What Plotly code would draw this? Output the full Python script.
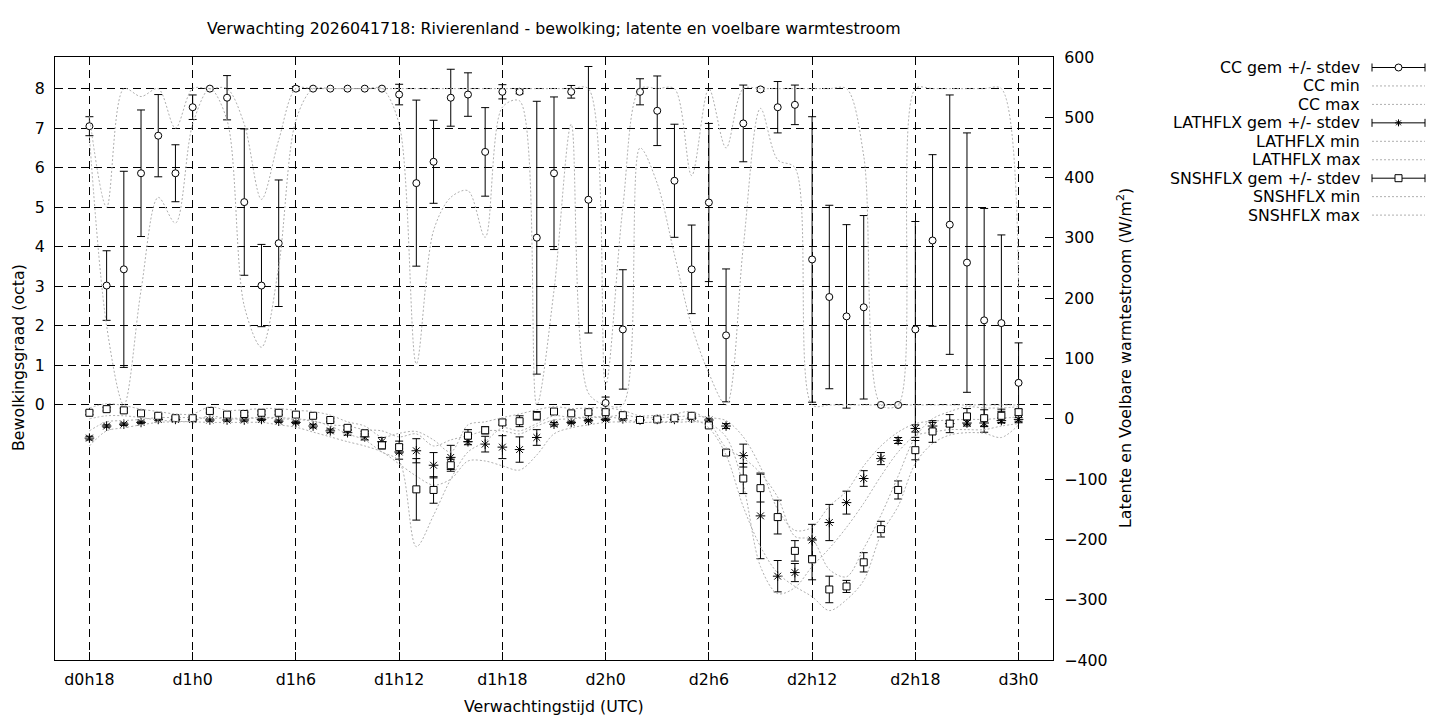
import plotly.graph_objects as go

W, H = 1440, 720

hours = list(range(18, 73))
tick_hours = [18, 24, 30, 36, 42, 48, 54, 60, 66, 72]
tick_labels = ["d0h18", "d1h0", "d1h6", "d1h12", "d1h18", "d2h0", "d2h6", "d2h12", "d2h18", "d3h0"]

cc_mean = [7.05, 3.02, 3.43, 5.86, 6.81, 5.86, 7.53, 8.0, 7.77, 5.13, 3.02, 4.09,
           8.0, 8.0, 8.0, 8.0, 8.0, 8.0, 7.85, 5.61, 6.15, 7.77, 7.85, 6.40,
           7.92, 7.92, 4.23, 5.86, 7.92, 5.19, 0.05, 1.91, 7.92, 7.44, 5.67, 3.43,
           5.12, 1.76, 7.12, 7.98, 7.53, 7.59, 3.68, 2.73, 2.24, 2.47, 0.0, 0.0,
           1.91, 4.16, 4.56, 3.60, 2.14, 2.07, 0.56]
cc_std = [0.24, 0.88, 2.48, 1.60, 1.04, 0.72, 0.31, 0.0, 0.56, 1.85, 1.04, 1.60,
          0.05, 0.0, 0.0, 0.0, 0.0, 0.0, 0.26, 2.10, 1.05, 0.72, 0.55, 1.12,
          0.18, 0.05, 3.45, 1.93, 0.16, 3.37, 0.15, 1.51, 0.33, 0.88, 1.43, 1.12,
          2.00, 1.68, 0.97, 0.05, 0.65, 0.50, 3.61, 2.32, 2.32, 2.32, 0.0, 0.0,
          2.73, 2.17, 3.28, 3.28, 2.83, 2.23, 1.01]
cc_min = [6.8, 2.0, 0.0, 2.9, 5.25, 4.6, 7.1, 8.0, 7.2, 2.5, 1.46, 3.5,
          7.2, 8.0, 8.0, 8.0, 8.0, 8.0, 7.1, 1.04, 4.41, 5.25, 5.42, 4.24,
          7.53, 7.69, 0.0, 2.9, 7.1, 0.3, 0.0, 0.0, 6.5, 5.6, 3.8, 2.0,
          0.8, 0.0, 4.0, 7.5, 6.2, 6.0, 0.0, 0.0, 0.0, 0.0, 0.0, 0.0,
          0.0, 0.0, 0.0, 0.0, 0.0, 0.0, 0.0]
cc_max = [7.3, 5.0, 8.0, 7.8, 8.0, 7.0, 8.0, 8.0, 8.0, 7.1, 5.2, 6.7,
          8.0, 8.0, 8.0, 8.0, 8.0, 8.0, 8.0, 8.0, 8.0, 8.0, 8.0, 8.0,
          8.0, 8.0, 8.0, 8.0, 8.0, 8.0, 0.5, 5.0, 8.0, 8.0, 8.0, 5.8,
          8.0, 6.5, 8.0, 8.0, 8.0, 8.0, 8.0, 8.0, 8.0, 6.3, 0.0, 0.0,
          8.0, 8.0, 8.0, 8.0, 8.0, 8.0, 2.9]

lat_mean = [-32, -12, -9, -6, -1, -1, -1, -2, -2, -2, -1, -4,
            -6, -12, -20, -23, -30, -38, -55, -53, -77, -64, -38, -42,
            -47, -51, -31, -9, -6, -3, -1, 0, -2, -1, -1, 1,
            -2, -12, -61, -161, -261, -255, -201, -172, -139, -99, -66, -36,
            -16, -12, -8, -7, -7, -3, -1]
lat_std = [3, 2, 2, 2, 2, 2, 2, 2, 2, 2, 2, 2,
           2, 3, 3, 4, 5, 7, 12, 20, 21, 20, 5, 13,
           19, 21, 13, 3, 2, 2, 2, 2, 2, 2, 2, 2,
           2, 4, 19, 71, 26, 15, 26, 30, 19, 13, 10, 5,
           6, 6, 5, 5, 5, 4, 3]
lat_min = [-45, -20, -15, -10, -6, -5, -5, -6, -6, -6, -6, -10,
           -14, -22, -30, -38, -45, -55, -75, -95, -110, -100, -70, -70,
           -78, -85, -60, -25, -15, -10, -6, -5, -6, -6, -6, -5,
           -8, -30, -110, -245, -290, -280, -245, -215, -180, -140, -95, -55,
           -28, -22, -18, -18, -18, -12, -8]
lat_max = [-20, -5, -3, -1, 2, 2, 2, 1, 1, 1, 2, 0,
           -1, -4, -10, -12, -18, -20, -30, -25, -45, -35, -28, -20,
           -20, -25, -12, -2, 0, 2, 3, 6, 2, 2, 3, 5,
           2, -3, -30, -80, -150, -185, -180, -145, -120, -78, -45, -22,
           -8, -4, -2, -1, -1, 1, 3]

sns_mean = [10, 16, 14, 9, 5, 1, 1, 13, 7, 8, 10, 10,
            7, 5, -2, -15, -24, -44, -47, -117, -118, -77, -28, -19,
            -6, -4, 5, 12, 9, 11, 11, 6, -2, -1, 1, 5,
            -11, -56, -99, -115, -163, -219, -233, -283, -278, -238, -183, -118,
            -52, -21, -8, 4, 1, 5, 11]
sns_std = [3, 3, 3, 3, 3, 3, 3, 3, 3, 3, 3, 3,
           3, 3, 3, 3, 3, 6, 10, 51, 22, 10, 10, 6,
           4, 9, 7, 3, 3, 3, 3, 3, 3, 3, 3, 3,
           3, 4, 25, 23, 28, 17, 34, 22, 10, 16, 13, 15,
           16, 18, 15, 13, 14, 11, 5]
sns_min = [0, 5, 5, 2, -2, -4, -4, 5, 0, 0, 2, 2,
           0, -3, -12, -25, -35, -55, -70, -212, -160, -100, -55, -38,
           -15, -20, -8, 5, 2, 3, 3, 0, -6, -5, -4, 0,
           -15, -60, -146, -212, -256, -278, -295, -318, -300, -268, -192, -145,
           -74, -41, -27, -23, -24, -31, -10]
sns_max = [18, 25, 22, 16, 12, 8, 8, 20, 14, 15, 17, 17,
           14, 12, 6, -5, -12, -30, -24, -21, -35, -55, -10, -5,
           2, 8, 15, 20, 17, 18, 18, 14, 5, 6, 8, 12,
           -5, -48, -65, -90, -130, -195, -200, -250, -262, -215, -160, -95,
           -30, 0, 12, 20, 18, 18, 20]

FONT = "DejaVu Sans"
FS = 15.8
GRAY = "rgb(175,175,175)"
DOT = "2px,2px"


def errtrace(y, err, axis, symbol):
    return go.Scatter(
        x=hours, y=y, yaxis=axis, mode="markers", showlegend=False,
        marker=dict(symbol=symbol, size=7 if "asterisk" not in symbol else 8,
                    color="white" if "asterisk" not in symbol else "black",
                    line=dict(color="black", width=1)),
        error_y=dict(type="data", array=err, visible=True, color="black", thickness=1, width=4),
    )


def dotted(y, axis):
    return go.Scatter(
        x=hours, y=y, yaxis=axis, mode="lines", showlegend=False,
        line=dict(color=GRAY, width=1, dash=DOT, shape="spline", smoothing=0.9),
    )


fig = go.Figure()
fig.add_trace(errtrace(cc_mean, cc_std, "y", "circle"))
fig.add_trace(dotted(cc_min, "y"))
fig.add_trace(dotted(cc_max, "y"))
fig.add_trace(errtrace(lat_mean, lat_std, "y2", "asterisk-open"))
fig.add_trace(dotted(lat_min, "y2"))
fig.add_trace(dotted(lat_max, "y2"))
fig.add_trace(errtrace(sns_mean, sns_std, "y2", "square"))
fig.add_trace(dotted(sns_min, "y2"))
fig.add_trace(dotted(sns_max, "y2"))


def px(x):
    return x / W


def py(y):
    return 1 - y / H


left, right, top, bottom = 55, 1053, 57, 660

fig.update_layout(
    width=W, height=H, autosize=False,
    margin=dict(l=0, r=0, t=0, b=0, pad=0),
    paper_bgcolor="white", plot_bgcolor="white",
    font=dict(family=FONT, size=FS, color="black"),
    showlegend=False,
    xaxis=dict(
        domain=[px(left), px(right)], range=[16, 74],
        tickvals=tick_hours, ticktext=tick_labels,
        ticks="inside", ticklen=8, tickcolor="black",
        showgrid=True, gridcolor="black", gridwidth=1, griddash="8px,5px",
        showline=True, linecolor="black", linewidth=1, mirror="ticks",
        zeroline=False, ticklabelstandoff=5, automargin=False,
    ),
    yaxis=dict(
        domain=[py(bottom), py(top)], range=[-6.45, 8.80],
        tickvals=list(range(0, 9)),
        ticks="inside", ticklen=8, tickcolor="black",
        showgrid=True, gridcolor="black", gridwidth=1, griddash="8px,5px",
        showline=True, linecolor="black", linewidth=1,
        zeroline=False, ticklabelstandoff=6, automargin=False,
    ),
    yaxis2=dict(
        overlaying="y", side="right", anchor="x", range=[-400, 600],
        tickvals=list(range(-400, 601, 100)),
        ticks="inside", ticklen=8, tickcolor="black",
        showgrid=False, showline=True, linecolor="black", linewidth=1,
        zeroline=False, ticklabelstandoff=7, automargin=False,
    ),
)

annotations = [
    dict(text="Verwachting 2026041718: Rivierenland - bewolking; latente en voelbare warmtestroom",
         x=px(554), y=py(29)),
    dict(text="Verwachtingstijd (UTC)", x=px(554), y=py(706)),
    dict(text="Bewolkingsgraad (octa)", x=px(18), y=py(358), textangle=-90),
    dict(text="Latente en Voelbare warmtestroom (W/m<sup>2</sup>)", x=px(1124), y=py(358), textangle=-90),
]
for a in annotations:
    a.update(xref="paper", yref="paper", showarrow=False, xanchor="center", yanchor="middle",
             font=dict(family=FONT, size=FS, color="black"))
fig.update_layout(annotations=annotations)

# legend (drawn manually, right-aligned text like gnuplot)
legend_items = [
    ("CC gem +/- stdev", "circle"), ("CC min", None), ("CC max", None),
    ("LATHFLX gem +/- stdev", "asterisk"), ("LATHFLX min", None), ("LATHFLX max", None),
    ("SNSHFLX gem +/- stdev", "square"), ("SNSHFLX min", None), ("SNSHFLX max", None),
]
shapes = []
lx0, lx1, lxm, ltext = 1372, 1425, 1398.5, 1362
for i, (label, sym) in enumerate(legend_items):
    yy = 67.5 + 18.45 * i
    fig.add_annotation(text=label, x=px(ltext), y=py(yy), xref="paper", yref="paper",
                       showarrow=False, xanchor="right", yanchor="middle",
                       font=dict(family=FONT, size=FS, color="black"))
    if sym is None:
        shapes.append(dict(type="line", xref="paper", yref="paper", x0=px(lx0), x1=px(lx1),
                           y0=py(yy), y1=py(yy), line=dict(color=GRAY, width=1, dash=DOT)))
        continue
    blk = dict(color="black", width=1)
    shapes.append(dict(type="line", xref="paper", yref="paper", x0=px(lx0), x1=px(lx1),
                       y0=py(yy), y1=py(yy), line=blk))
    for xc in (lx0, lx1):
        shapes.append(dict(type="line", xref="paper", yref="paper", x0=px(xc), x1=px(xc),
                           y0=py(yy - 4), y1=py(yy + 4), line=blk))
    r = 3.5
    if sym == "circle":
        shapes.append(dict(type="circle", xref="paper", yref="paper", x0=px(lxm - r), x1=px(lxm + r),
                           y0=py(yy - r), y1=py(yy + r), fillcolor="white", line=blk))
    elif sym == "square":
        shapes.append(dict(type="rect", xref="paper", yref="paper", x0=px(lxm - r), x1=px(lxm + r),
                           y0=py(yy - r), y1=py(yy + r), fillcolor="white", line=blk))
    else:
        for dx, dy in ((r, 0), (0, r), (r * 0.7, r * 0.7), (r * 0.7, -r * 0.7)):
            shapes.append(dict(type="line", xref="paper", yref="paper", x0=px(lxm - dx), x1=px(lxm + dx),
                               y0=py(yy - dy), y1=py(yy + dy), line=blk))
fig.update_layout(shapes=shapes)

fig.write_html(
    "out.html",
    config={"responsive": False, "displayModeBar": False},
    post_script="document.body.style.margin='0px';document.body.style.overflow='hidden';",
)
